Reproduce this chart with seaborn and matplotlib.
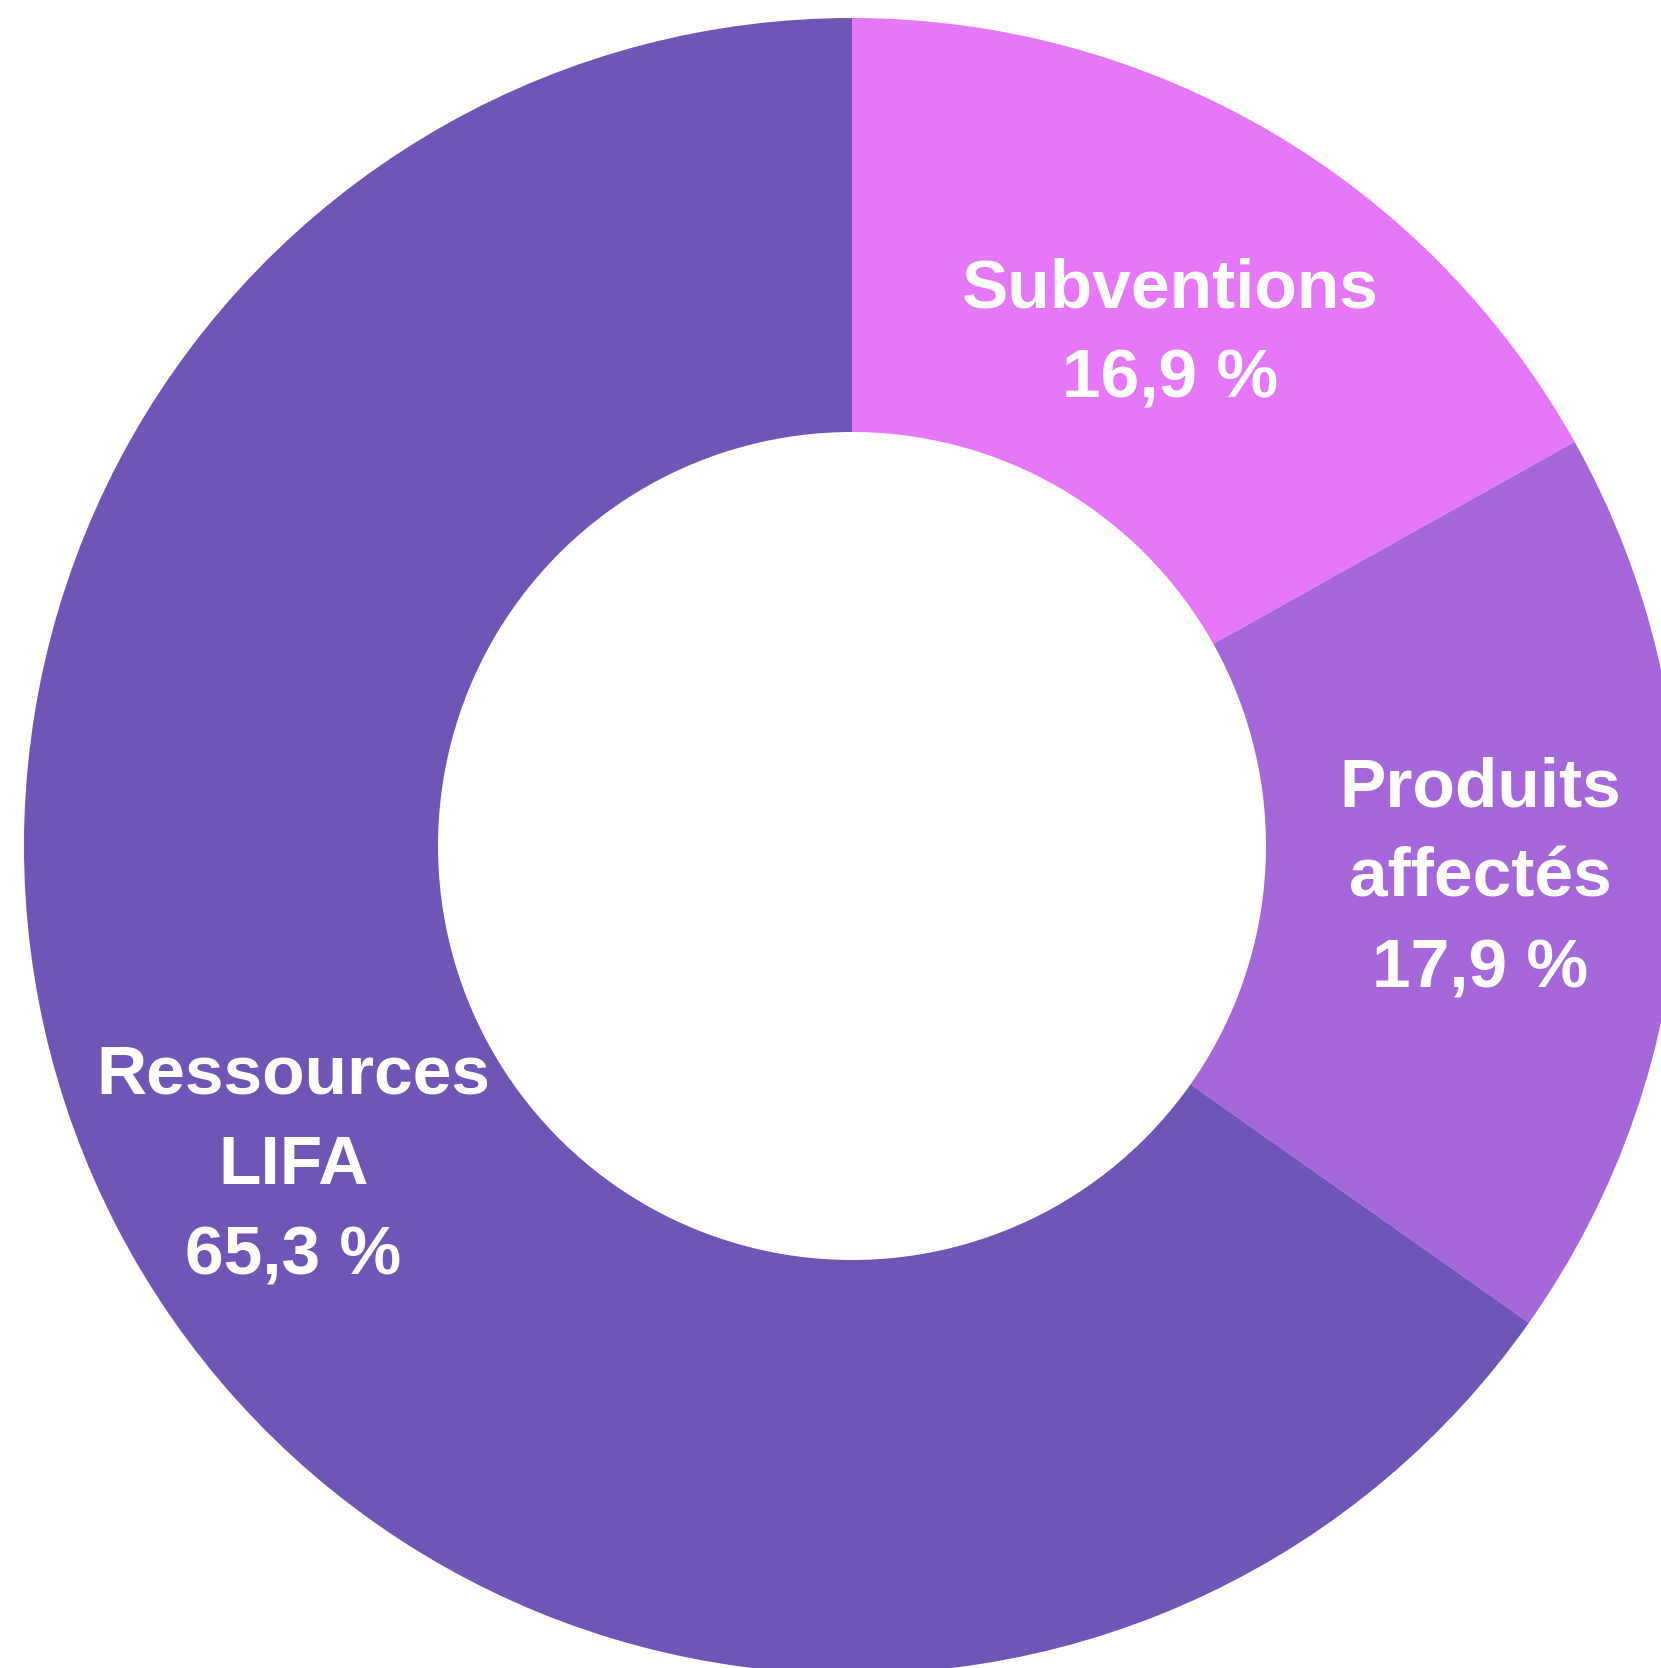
import matplotlib
matplotlib.use("Agg")
import matplotlib.pyplot as plt
import seaborn as sns

# shares of the budget, clockwise from the top
categories = ["Subventions", "Produits\naffectés", "Ressources\nLIFA"]
shares = [16.9, 17.9, 65.3]
pct_labels = ["16,9 %", "17,9 %", "65,3 %"]
colors = ["#E677F9", "#A667DB", "#6F55B5"]

sns.set_theme(style="white")
plt.rcParams['font.family'] = ['Liberation Sans', 'DejaVu Sans']

fig = plt.figure(figsize=(16.61, 16.68), dpi=100)
# square axes box in pixels: centre (852, 846), radius 828
W, H = 1661, 1668
cx, cy, R = 852, 846, 828
ax = fig.add_axes([(cx - R) / W, (H - cy - R) / H, 2 * R / W, 2 * R / H])

labels = [c + "\n" + p for c, p in zip(categories, pct_labels)]
wedges, texts = ax.pie(shares, colors=colors, startangle=90, counterclock=False,
                       radius=1.0, labels=labels, labeldistance=0.76,
                       wedgeprops=dict(width=0.5, linewidth=0),
                       textprops=dict(color="white", fontsize=50, fontweight="bold",
                                      linespacing=1.53))
# small vertical nudges so the labels sit like in the original
nudge = [-0.038, 0.0, -0.036]
for t, dy in zip(texts, nudge):
    t.set_horizontalalignment("center")
    t.set_verticalalignment("center")
    x, y = t.get_position()
    t.set_position((x, y + dy))

ax.set_xlim(-1, 1)
ax.set_ylim(-1, 1)
ax.set_aspect("auto")
ax.axis("off")

fig.savefig("out.png", dpi=100)
